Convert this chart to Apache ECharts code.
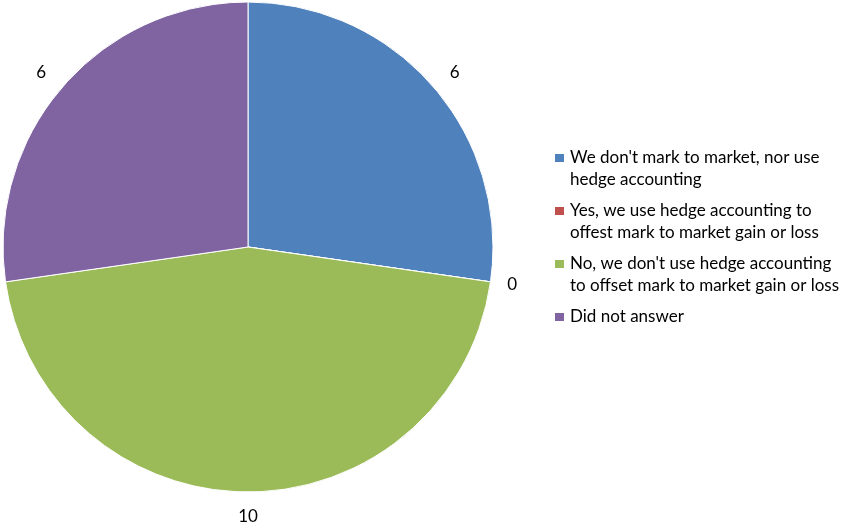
<!DOCTYPE html>
<html>
<head>
<meta charset="utf-8">
<script src="https://cdn.jsdelivr.net/npm/echarts@6/dist/echarts.min.js"></script>
<style>
  html, body { margin: 0; padding: 0; background: #fff; }
  #chart { width: 842px; height: 523px; }
</style>
</head>
<body>
<div id="chart"></div>
<script>
// Survey answers: how mark-to-market gains or losses are handled
const categories = [
  "We don't mark to market, nor use hedge accounting",
  "Yes, we use hedge accounting to offest mark to market gain or loss",
  "No, we don't use hedge accounting to offset mark to market gain or loss",
  "Did not answer"
];
const legendLines = [
  ["We don't mark to market, nor use", "hedge accounting"],
  ["Yes, we use hedge accounting to", "offest mark to market gain or loss"],
  ["No, we don't use hedge accounting", "to offset mark to market gain or loss"],
  ["Did not answer"]
];
const counts = [6, 0, 10, 6];
const colors = ['#4F81BD', '#C0504D', '#9BBB59', '#8064A2'];
const labelLengths = [22, 17, 25, 22];

const FONT = 'Lato';
const FONT_SIZE = 17;
const LINE_H = 22;
const ITEM_H = LINE_H * 2;

// Legend swatch: a square level with the first text line, inside a box
// two lines tall (the corner points only stretch the path's bounds).
const swatchIcon = 'path://M0,0L0.001,0M0,6L11,6L11,16L0,16ZM0,' + ITEM_H + 'L0.001,' + ITEM_H;

const chart = echarts.init(document.getElementById('chart'), null, { renderer: 'canvas' });

const pieData = categories.map((name, i) => ({
  name: name,
  value: counts[i],
  itemStyle: { color: colors[i] },
  labelLine: { show: false, length: labelLengths[i], length2: 0 }
}));

chart.setOption({
  animation: false,
  backgroundColor: '#ffffff',
  legend: {
    orient: 'vertical',
    left: 553,
    top: 146,
    padding: 0,
    itemWidth: 11,
    itemHeight: ITEM_H,
    itemGap: 7,
    icon: swatchIcon,
    data: categories,
    formatter: function (name) {
      const lines = legendLines[categories.indexOf(name)].slice();
      while (lines.length < 2) lines.push(' ');
      return lines.join('\n');
    },
    textStyle: {
      fontFamily: FONT,
      fontSize: FONT_SIZE,
      color: '#000',
      lineHeight: LINE_H
    }
  },
  series: [{
    type: 'pie',
    center: [248, 247],
    radius: 245,
    startAngle: 90,
    clockwise: true,
    avoidLabelOverlap: false,
    itemStyle: { borderColor: '#fff', borderWidth: 1 },
    emphasis: { disabled: true },
    label: {
      show: true,
      position: 'outside',
      formatter: '{c}',
      fontFamily: FONT,
      fontSize: FONT_SIZE,
      color: '#000',
      distanceToLabelLine: 0
    },
    labelLayout: function (params) {
      // the bottom slice label sits straight below the centre
      if (params.dataIndex === 2) return { align: 'center' };
      return {};
    },
    data: pieData
  }]
});
</script>
</body>
</html>
